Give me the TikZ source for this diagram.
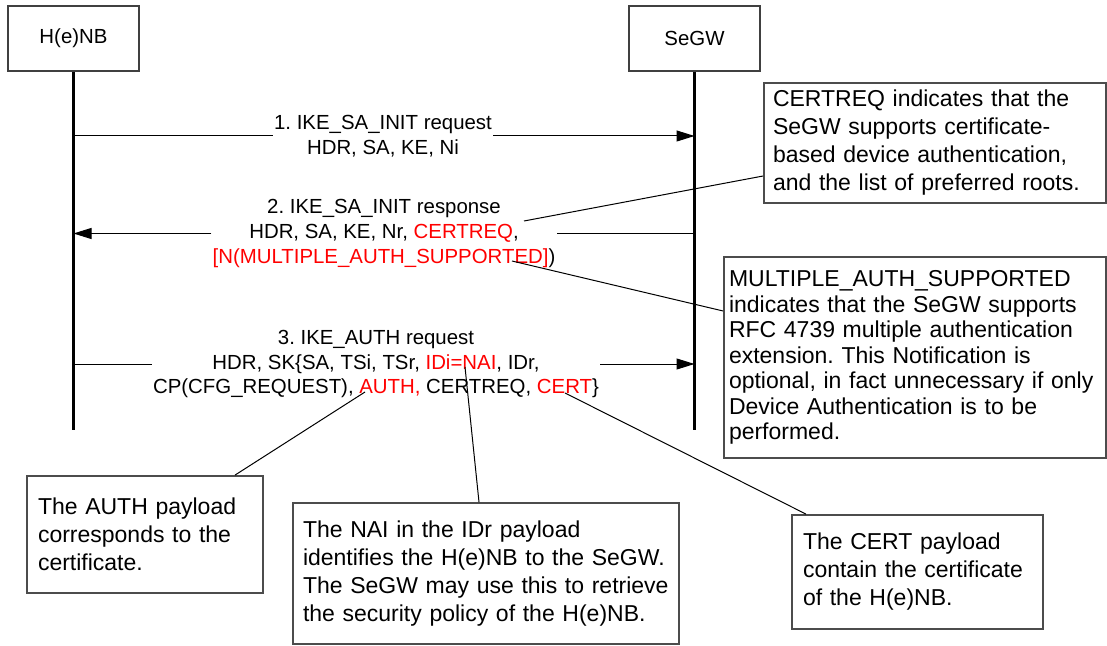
\documentclass[tikz,border=0pt]{standalone}
\usepackage{fontspec}
\setmainfont{Liberation Sans}
\usetikzlibrary{arrows.meta}
\frenchspacing
\tikzset{
  actor/.style={draw=black!75,line width=0.75pt,minimum width=65.5pt,minimum height=32.5pt,inner sep=0pt,font=\fontsize{10.2}{12.3}\selectfont},
  lifeline/.style={line width=1.5pt},
  msg/.style={align=center,inner xsep=0.5pt,inner ysep=0pt,font=\fontsize{10.2}{12.3}\selectfont},
  msgline/.style={line width=0.5pt},
  msgarrow/.style={msgline,-{Triangle[length=9pt,width=5.5pt]}},
  note/.style={draw=black!70,line width=0.9pt,align=left,inner ysep=0pt,font=\fontsize{11.5}{14}\selectfont},
  callout/.style={line width=0.5pt},
}
\newcommand{\hl}[1]{\textcolor{red}{#1}}
\begin{document}
\begin{tikzpicture}[x=0.5pt,y=-0.5pt]
  \useasboundingbox (0,0) rectangle (1107,646);
  %% participants
  \node[actor] (henb) at (73.5,38.5) {H(e)NB};
  \node[actor] (segw) at (694.5,38.5) {SeGW};
  \coordinate (lifeend) at (0,430);
  \draw[lifeline] (henb.south) -- (henb.south |- lifeend);
  \draw[lifeline] (segw.south) -- (segw.south |- lifeend);
  %% 1. request
  \node[msg] (m1) at (383,136) {1. IKE\_SA\_INIT request\\HDR, SA, KE, Ni};
  \draw[msgline] (henb.south |- m1) -- (m1.west);
  \draw[msgarrow] (m1.east) -- (segw.south |- m1);
  %% 2. response
  \node[msg] (m2) at (384,233.5) {2. IKE\_SA\_INIT response\\HDR, SA, KE, Nr, \hl{CERTREQ},\\\hl{[N(MULTIPLE\_AUTH\_SUPPORTED]})};
  \draw[msgline] (segw.south |- m2) -- (m2.east);
  \draw[msgarrow] (m2.west) -- (henb.south |- m2);
  %% 3. auth request
  \node[msg] (m3) at (376,364) {3. IKE\_AUTH request\\HDR, SK\{SA, TSi, TSr, \hl{IDi=NAI}, IDr,\\CP(CFG\_REQUEST), \hl{AUTH,} CERTREQ, \hl{CERT}\}};
  \draw[msgline] (henb.south |- m3) -- (m3.west);
  \draw[msgarrow] (m3.east) -- (segw.south |- m3);
  %% notes
  \node[note,text width=162pt,inner xsep=4.5pt,minimum height=60pt] (certreqnote) at (935,143)
    {CERTREQ indicates that the\\SeGW supports certificate-\\based device authentication,\\and the list of preferred roots.};
  \node[note,text width=186pt,inner xsep=2.5pt,minimum height=100.5pt,font=\fontsize{11.5}{12.75}\selectfont] (multinote) at (915,357.5)
    {MULTIPLE\_AUTH\_SUPPORTED\\indicates that the SeGW supports\\RFC 4739 multiple authentication\\extension. This Notification is\\optional, in fact unnecessary if only\\Device Authentication is to be\\performed.};
  \node[note,text width=107pt,inner xsep=5.5pt,minimum height=58.5pt] (authnote) at (145,534.5)
    {The AUTH payload\\corresponds to the\\certificate.};
  \node[note,text width=183pt,inner xsep=5pt,minimum height=70.5pt] (nainote) at (486,573.5)
    {The NAI in the IDr payload\\identifies the H(e)NB to the SeGW.\\The SeGW may use this to retrieve\\the security policy of the H(e)NB.};
  \node[note,text width=114.5pt,inner xsep=5.5pt,minimum height=57pt] (certnote) at (917.5,572)
    {The CERT payload\\contain the certificate\\of the H(e)NB.};
  %% callouts
  \coordinate (certreq) at (524,221);
  \coordinate (multi) at (512,261);
  \coordinate (auth) at (365,392);
  \coordinate (nai) at (465,367);
  \coordinate (cert) at (565,393);
  \draw[callout] (certreq) -- ([yshift=-16.5pt]certreqnote.west);
  \draw[callout] (multi) -- ([yshift=23.25pt]multinote.west);
  \draw[callout] (auth) -- ([xshift=45pt]authnote.north);
  \draw[callout] (nai) -- ([xshift=-3.5pt]nainote.north);
  \draw[callout] (cert) -- ([xshift=-55.75pt]certnote.north);
\end{tikzpicture}
\end{document}
